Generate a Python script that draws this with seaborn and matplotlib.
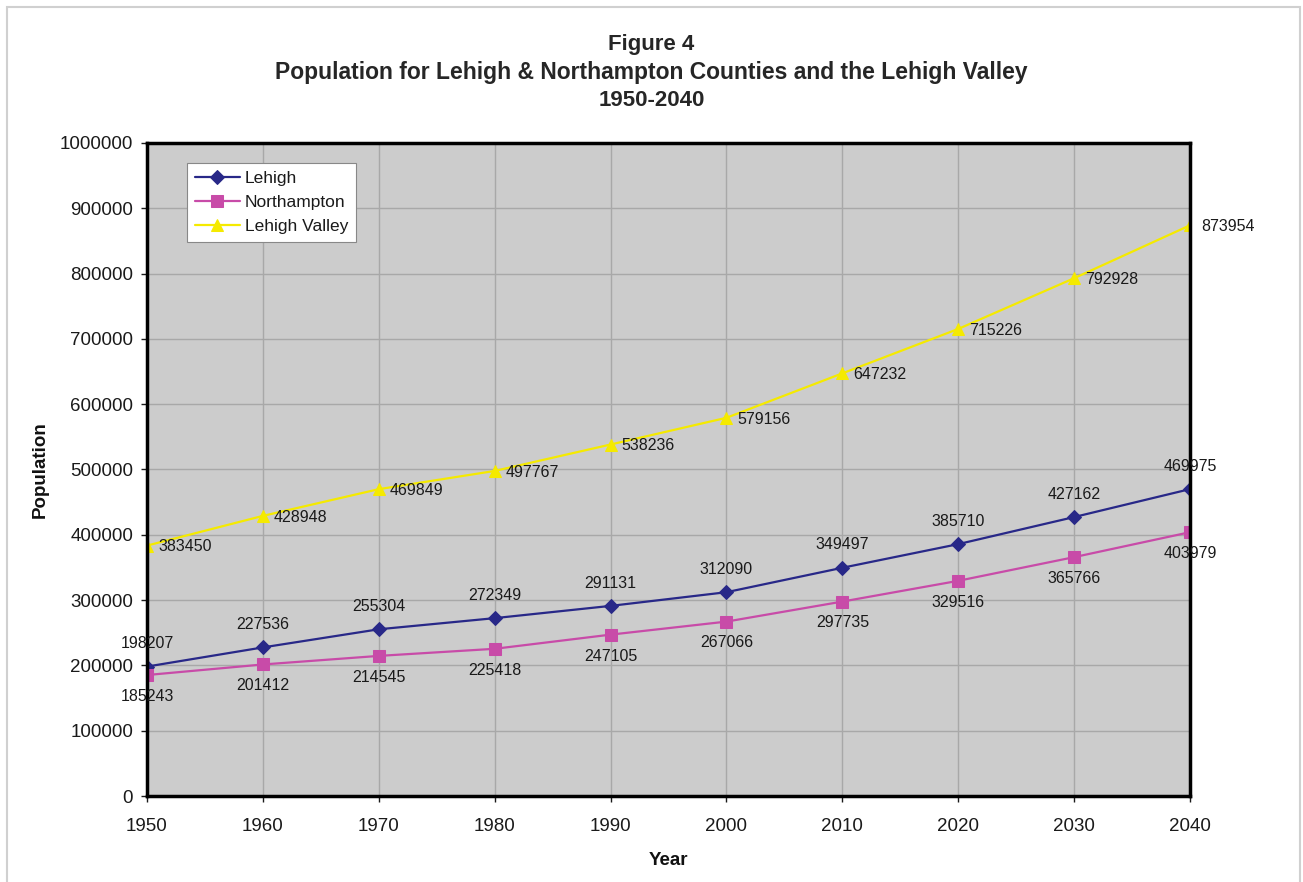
import numpy as np
import pandas as pd
import matplotlib
matplotlib.use('Agg')
import matplotlib.pyplot as plt
import seaborn as sns
from matplotlib.patches import Rectangle

# Data
years = [1950, 1960, 1970, 1980, 1990, 2000, 2010, 2020, 2030, 2040]
lehigh = [198207, 227536, 255304, 272349, 291131, 312090, 349497, 385710, 427162, 469975]
northampton = [185243, 201412, 214545, 225418, 247105, 267066, 297735, 329516, 365766, 403979]
lehigh_valley = [383450, 428948, 469849, 497767, 538236, 579156, 647232, 715226, 792928, 873954]
y_ticks = list(range(0, 1000001, 100000))

sns.set_style('white')
plt.rcParams['font.family'] = ['Liberation Sans', 'DejaVu Sans']

fig = plt.figure(figsize=(13.03, 8.82), dpi=100)
ax = fig.add_axes([0.1128, 0.0975, 0.8005, 0.7404])

# outer frame of the chart
fig.patches.append(Rectangle((0.005, -0.01), 0.993, 1.002, transform=fig.transFigure,
                             fill=False, edgecolor='#d0d0d0', linewidth=1.5))

ax.set_facecolor('#cccccc')

series = [
    ('Lehigh', lehigh, '#282888', 'D', 7),
    ('Northampton', northampton, '#c84ba8', 's', 8),
    ('Lehigh Valley', lehigh_valley, '#f5ea00', '^', 9),
]
for name, vals, color, mk, ms in series:
    df = pd.DataFrame({'Year': years, 'Population': vals})
    sns.lineplot(data=df, x='Year', y='Population', ax=ax, color=color, marker=mk,
                 markersize=ms, markeredgecolor=color, linewidth=1.6, label=name)

# data labels
for x, v in zip(years, lehigh):
    ax.annotate(str(v), (x, v), xytext=(0, 11), textcoords='offset points',
                ha='center', va='bottom', fontsize=11.5, color='#1a1a1a')
for x, v in zip(years, northampton):
    ax.annotate(str(v), (x, v), xytext=(0, -10), textcoords='offset points',
                ha='center', va='top', fontsize=11.5, color='#1a1a1a')
for x, v in zip(years, lehigh_valley):
    ax.annotate(str(v), (x, v), xytext=(8, -1), textcoords='offset points',
                ha='left', va='center', fontsize=11.5, color='#1a1a1a', annotation_clip=False)

ax.set_xlim(1950, 2040)
ax.set_ylim(0, 1000000)
ax.set_xticks(years)
ax.set_yticks(y_ticks)
ax.set_yticklabels([str(t) for t in y_ticks])
ax.grid(True, color='#a8a8a8', linewidth=1)
ax.set_axisbelow(True)
ax.tick_params(axis='both', labelsize=13.5, colors='#1a1a1a', length=4, width=1,
               direction='out', pad=6)
ax.tick_params(axis='y', left=True)
ax.tick_params(axis='x', bottom=True, pad=12)
for sp in ax.spines.values():
    sp.set_visible(True)
    sp.set_color('black')
    sp.set_linewidth(2.5)

ax.set_xlabel('Year', fontsize=13.5, fontweight='bold', labelpad=12, color='#111111')
ax.set_ylabel('Population', fontsize=13.5, fontweight='bold', labelpad=8, color='#111111')

fig.text(0.5, 0.949, 'Figure 4', ha='center', va='center', fontsize=16, fontweight='bold')
fig.text(0.5, 0.918, 'Population for Lehigh & Northampton Counties and the Lehigh Valley',
         ha='center', va='center', fontsize=16.5, fontweight='bold')
fig.text(0.5, 0.886, '1950-2040', ha='center', va='center', fontsize=16, fontweight='bold')

leg = ax.legend(loc='upper left', bbox_to_anchor=(0.03, 0.982), fontsize=12.5,
                frameon=True, fancybox=False, framealpha=1, edgecolor='#888888',
                borderpad=0.45, labelspacing=0.5, handlelength=2.6, handletextpad=0.3)
leg.get_frame().set_linewidth(0.8)
for t in leg.get_texts():
    t.set_color('#1a1a1a')

fig.savefig('out.png', dpi=100, facecolor='white')
